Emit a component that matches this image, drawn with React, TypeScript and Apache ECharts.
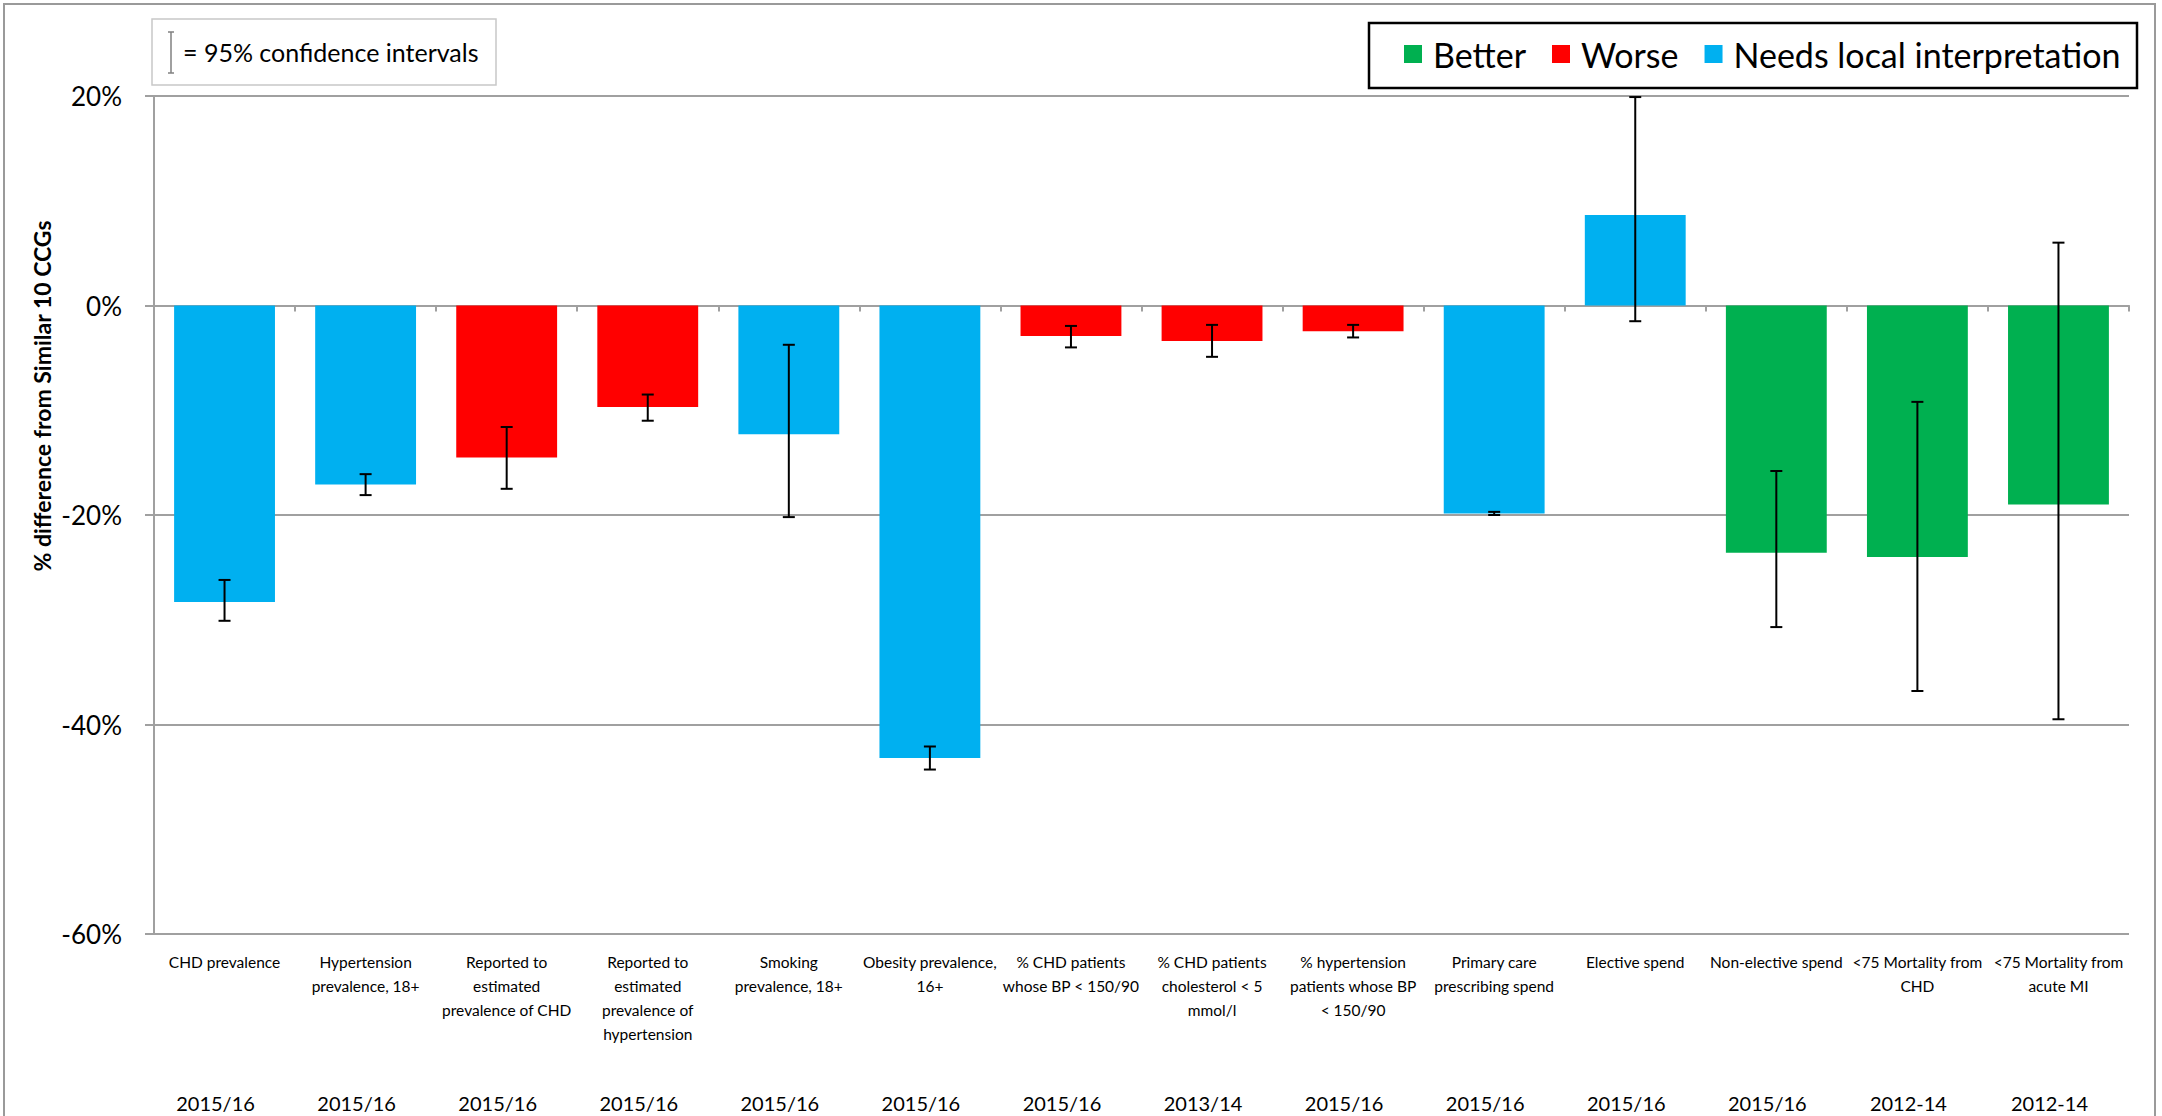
import React, { useEffect, useRef } from "react";
import * as echarts from "echarts";

const categories = [
  "CHD prevalence",
  "Hypertension\nprevalence, 18+",
  "Reported to\nestimated\nprevalence of CHD",
  "Reported to\nestimated\nprevalence of\nhypertension",
  "Smoking\nprevalence, 18+",
  "Obesity prevalence,\n16+",
  "% CHD patients\nwhose BP < 150/90",
  "% CHD patients\ncholesterol < 5\nmmol/l",
  "% hypertension\npatients whose BP\n< 150/90",
  "Primary care\nprescribing spend",
  "Elective spend",
  "Non-elective spend",
  "<75 Mortality from\nCHD",
  "<75 Mortality from\nacute MI",
];

const periods = [
  "2015/16", "2015/16", "2015/16", "2015/16", "2015/16", "2015/16", "2015/16",
  "2013/14", "2015/16", "2015/16", "2015/16", "2015/16", "2012-14", "2012-14",
];

// % difference from similar 10 CCGs
const differences = [-28.3, -17.1, -14.5, -9.7, -12.3, -43.2, -2.9, -3.4, -2.45, -19.85, 8.65, -23.6, -24.0, -19.0];
const ciLower = [-30.1, -18.1, -17.5, -11.0, -20.2, -44.3, -4.0, -4.9, -3.05, -20.0, -1.5, -30.7, -36.8, -39.5];
const ciUpper = [-26.2, -16.1, -11.6, -8.5, -3.75, -42.1, -1.95, -1.85, -1.85, -19.7, 19.9, -15.8, -9.2, 6.0];

const assessment = [
  "Needs local interpretation", "Needs local interpretation", "Worse", "Worse",
  "Needs local interpretation", "Needs local interpretation", "Worse", "Worse", "Worse",
  "Needs local interpretation", "Needs local interpretation", "Better", "Better", "Better",
];

const groups = ["Better", "Worse", "Needs local interpretation"];
const groupColors = ["#00B050", "#FF0000", "#00B0F0"];

const yMin = -60;
const yMax = 20;
const yStep = 20;

const SANS = "Lato, 'Noto Sans', sans-serif";
const GRID = "#A0A0A0";

export default function App() {
  const ref = useRef<HTMLDivElement>(null);

  useEffect(() => {
    document.body.style.margin = "0";
    document.body.style.overflow = "hidden";
    const chart = echarts.init(ref.current!, null, { renderer: "svg" });

    const barSeries = groups.map((g, gi) => ({
      type: "bar",
      name: g,
      stack: "diff",
      xAxisIndex: 0,
      yAxisIndex: 0,
      barCategoryGap: "28.5%",
      itemStyle: { color: groupColors[gi] },
      data: differences.map((v, i) => (assessment[i] === g ? v : "-")),
      z: 2,
    }));

    const errorSeries = {
      type: "custom",
      name: "95% CI",
      xAxisIndex: 0,
      yAxisIndex: 0,
      z: 10,
      data: ciLower.map((lo, i) => [i, lo, ciUpper[i]]),
      encode: { x: 0, y: [1, 2] },
      renderItem: (params: any, api: any) => {
        const idx = api.value(0);
        const lo = api.coord([idx, api.value(1)]);
        const hi = api.coord([idx, api.value(2)]);
        const cap = 6;
        const st = { stroke: "#000", lineWidth: 2 };
        return {
          type: "group",
          children: [
            { type: "line", shape: { x1: lo[0], y1: lo[1], x2: hi[0], y2: hi[1] }, style: st },
            { type: "line", shape: { x1: lo[0] - cap, y1: lo[1], x2: lo[0] + cap, y2: lo[1] }, style: st },
            { type: "line", shape: { x1: hi[0] - cap, y1: hi[1], x2: hi[0] + cap, y2: hi[1] }, style: st },
          ],
        };
      },
    };

    chart.setOption({
      animation: false,
      backgroundColor: "#fff",
      grid: { left: 154, right: 33, top: 96, bottom: 182, containLabel: false },
      legend: {
        data: groups,
        left: 1404,
        top: 37,
        padding: 0,
        itemWidth: 18,
        itemHeight: 18,
        itemGap: 26,
        icon: "rect",
        textStyle: { fontSize: 34, fontFamily: SANS, color: "#000", padding: [0, 0, 0, 6] },
        selectedMode: false,
      },
      xAxis: [
        {
          type: "category",
          data: categories,
          position: "bottom",
          axisLine: { show: false, onZero: false },
          axisTick: { show: false },
          axisLabel: {
            interval: 0,
            margin: 16,
            fontSize: 15.5,
            lineHeight: 24,
            fontFamily: SANS,
            color: "#000",
          },
          splitLine: { show: false },
        },
        {
          type: "category",
          data: periods,
          position: "bottom",
          offset: 152,
          axisLine: { show: false, onZero: false },
          axisTick: { show: false },
          axisLabel: {
            interval: 0,
            margin: 7,
            fontSize: 20,
            fontFamily: SANS,
            color: "#000",
            padding: [0, 18, 0, 0],
          },
        },
        {
          type: "category",
          data: categories,
          position: "bottom",
          axisLine: { show: true, onZero: true, lineStyle: { color: GRID, width: 2 } },
          axisTick: { show: true, length: 6, lineStyle: { color: GRID, width: 2 } },
          axisLabel: { show: false },
        },
      ],
      yAxis: {
        type: "value",
        min: yMin,
        max: yMax,
        interval: yStep,
        axisLine: { show: true, lineStyle: { color: GRID, width: 2 } },
        axisTick: { show: true, length: 9, lineStyle: { color: GRID, width: 2 } },
        axisLabel: {
          formatter: (v: number) => `${v}%`,
          fontSize: 26,
          fontFamily: SANS,
          color: "#000",
          margin: 32,
        },
        splitLine: { show: true, lineStyle: { color: GRID, width: 2 } },
      },
      graphic: [
        {
          type: "rect",
          silent: true,
          z: -10,
          shape: { x: 4, y: 4, width: 2151, height: 1140 },
          style: { fill: "none", stroke: "#9A9A9A", lineWidth: 2 },
        },
        {
          type: "rect",
          silent: true,
          shape: { x: 152, y: 19, width: 344, height: 66 },
          style: { fill: "#fff", stroke: "#C8C8C8", lineWidth: 1.5 },
        },
        {
          type: "group",
          silent: true,
          children: [
            { type: "line", shape: { x1: 171, y1: 32, x2: 171, y2: 73 }, style: { stroke: "#808080", lineWidth: 1.5 } },
            { type: "line", shape: { x1: 168, y1: 32, x2: 174, y2: 32 }, style: { stroke: "#808080", lineWidth: 1.5 } },
            { type: "line", shape: { x1: 168, y1: 73, x2: 174, y2: 73 }, style: { stroke: "#808080", lineWidth: 1.5 } },
          ],
        },
        {
          type: "text",
          silent: true,
          x: 183,
          y: 52,
          style: {
            text: "= 95% confidence intervals",
            fontSize: 25,
            fontFamily: SANS,
            fill: "#000",
            verticalAlign: "middle",
          },
        },
        {
          type: "rect",
          silent: true,
          shape: { x: 1369, y: 23, width: 768, height: 65 },
          style: { fill: "#fff", stroke: "#000", lineWidth: 2.5 },
          z: -1,
        },
        {
          type: "text",
          silent: true,
          x: 42,
          y: 396,
          rotation: Math.PI / 2,
          style: {
            text: "% difference from Similar 10 CCGs",
            fontSize: 23,
            fontWeight: "bold",
            fontFamily: SANS,
            fill: "#000",
            align: "center",
            verticalAlign: "middle",
          },
        },
      ],
      series: [...barSeries, errorSeries],
    });

    return () => chart.dispose();
  }, []);

  return (
    <div
      ref={ref}
      style={{ position: "fixed", left: 0, top: 0, width: 2162, height: 1116 }}
    />
  );
}
